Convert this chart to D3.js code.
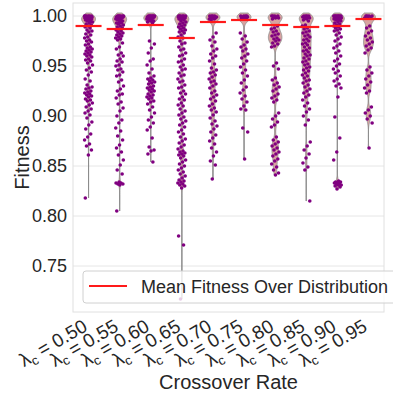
<!DOCTYPE html>
<html><head><meta charset="utf-8">
<script src="https://cdn.jsdelivr.net/npm/d3@7"></script>
<style>
html,body{margin:0;padding:0;background:#fff;}
svg{display:block;font-family:"Liberation Sans",Arial,sans-serif;}
</style></head>
<body><svg id="chart" width="393" height="402"></svg>
<script>
const categories = ["0.50","0.55","0.60","0.65","0.70","0.75","0.80","0.85","0.90","0.95"];
const meanFitness = [0.990,0.987,0.991,0.978,0.994,0.996,0.991,0.989,0.990,0.997];
const yTicks = [0.75,0.80,0.85,0.90,0.95,1.00];

const fit050 = [1,1,1,1,1,1,0.999,0.999,0.999,0.999,0.998,0.998,0.998,0.998,0.997,0.997,0.997,0.996,0.996,0.995,0.995,0.994,0.993,0.992,0.991,0.99,0.989,0.988,0.986,0.985,0.984,0.982,0.981,0.979,0.978,0.976,0.975,0.974,0.972,0.971,0.969,0.968,0.967,0.966,0.965,0.964,0.963,0.962,0.961,0.96,0.959,0.957,0.956,0.955,0.953,0.951,0.948,0.946,0.944,0.941,0.937,0.935,0.931,0.929,0.928,0.927,0.925,0.924,0.923,0.922,0.921,0.92,0.919,0.917,0.916,0.915,0.913,0.911,0.909,0.907,0.905,0.903,0.901,0.898,0.894,0.891,0.887,0.882,0.879,0.876,0.872,0.87,0.866,0.861,0.818];
const fit055 = [1,1,1,1,1,1,0.999,0.999,0.999,0.999,0.998,0.998,0.998,0.997,0.997,0.996,0.996,0.995,0.994,0.993,0.993,0.992,0.991,0.99,0.989,0.988,0.987,0.986,0.985,0.984,0.983,0.982,0.981,0.98,0.979,0.978,0.977,0.976,0.973,0.969,0.967,0.963,0.961,0.96,0.957,0.955,0.954,0.951,0.95,0.947,0.946,0.944,0.941,0.94,0.936,0.934,0.93,0.927,0.925,0.922,0.921,0.918,0.914,0.912,0.908,0.905,0.9,0.896,0.893,0.888,0.885,0.88,0.876,0.871,0.868,0.864,0.861,0.856,0.851,0.846,0.842,0.834,0.833,0.833,0.832,0.832,0.831,0.805];
const fit060 = [1,1,1,1,1,1,1,0.999,0.999,0.999,0.999,0.998,0.998,0.998,0.997,0.997,0.996,0.996,0.995,0.995,0.994,0.993,0.975,0.972,0.968,0.963,0.957,0.955,0.951,0.947,0.943,0.94,0.938,0.937,0.936,0.935,0.934,0.933,0.932,0.93,0.929,0.928,0.927,0.926,0.925,0.924,0.922,0.921,0.92,0.919,0.918,0.917,0.915,0.914,0.912,0.909,0.906,0.903,0.899,0.896,0.893,0.889,0.886,0.878,0.869,0.866,0.865,0.862,0.854];
const fit065 = [1,1,1,1,1,1,0.999,0.999,0.999,0.998,0.998,0.998,0.997,0.997,0.996,0.995,0.994,0.993,0.992,0.991,0.99,0.989,0.988,0.987,0.986,0.985,0.984,0.983,0.981,0.979,0.978,0.975,0.973,0.972,0.969,0.967,0.966,0.963,0.961,0.96,0.957,0.955,0.954,0.951,0.949,0.947,0.946,0.943,0.941,0.94,0.937,0.935,0.934,0.931,0.929,0.928,0.925,0.923,0.922,0.919,0.917,0.916,0.913,0.911,0.91,0.907,0.905,0.903,0.901,0.899,0.897,0.895,0.893,0.891,0.889,0.886,0.884,0.882,0.879,0.877,0.875,0.873,0.871,0.869,0.867,0.865,0.864,0.863,0.862,0.861,0.86,0.858,0.856,0.854,0.852,0.85,0.848,0.846,0.844,0.842,0.84,0.838,0.836,0.835,0.834,0.833,0.832,0.831,0.83,0.828,0.78,0.771,0.717];
const fit070 = [1,1,1,1,0.999,0.999,0.999,0.998,0.998,0.997,0.997,0.996,0.983,0.979,0.976,0.974,0.97,0.967,0.965,0.962,0.96,0.958,0.955,0.952,0.948,0.946,0.944,0.943,0.941,0.939,0.937,0.935,0.934,0.932,0.93,0.928,0.925,0.923,0.921,0.919,0.917,0.915,0.912,0.91,0.908,0.906,0.904,0.901,0.898,0.895,0.892,0.89,0.887,0.884,0.881,0.878,0.875,0.872,0.868,0.864,0.86,0.855,0.851,0.837];
const fit075 = [1,1,1,1,0.999,0.999,0.999,0.998,0.998,0.997,0.983,0.98,0.977,0.974,0.971,0.969,0.967,0.965,0.962,0.96,0.958,0.955,0.952,0.949,0.946,0.943,0.94,0.936,0.933,0.929,0.926,0.923,0.92,0.917,0.914,0.91,0.907,0.906,0.888,0.884,0.857];
const fit080 = [1,1,1,1,0.999,0.999,0.998,0.998,0.997,0.99,0.988,0.987,0.985,0.984,0.982,0.981,0.98,0.978,0.977,0.976,0.975,0.973,0.972,0.97,0.969,0.953,0.95,0.947,0.938,0.936,0.933,0.931,0.929,0.927,0.925,0.922,0.92,0.918,0.916,0.914,0.903,0.9,0.897,0.894,0.891,0.889,0.879,0.876,0.874,0.872,0.87,0.868,0.866,0.864,0.862,0.86,0.857,0.855,0.852,0.849,0.846,0.843,0.841];
const fit085 = [1,1,1,1,0.999,0.999,0.998,0.998,0.997,0.996,0.995,0.991,0.99,0.988,0.987,0.985,0.984,0.983,0.981,0.98,0.979,0.977,0.976,0.975,0.973,0.972,0.971,0.969,0.968,0.966,0.965,0.964,0.962,0.961,0.96,0.958,0.957,0.955,0.954,0.952,0.951,0.949,0.948,0.946,0.945,0.943,0.941,0.94,0.938,0.936,0.935,0.933,0.931,0.929,0.927,0.925,0.923,0.921,0.919,0.916,0.913,0.91,0.907,0.904,0.9,0.896,0.891,0.874,0.87,0.866,0.862,0.858,0.853,0.849,0.846,0.815];
const fit090 = [1,1,1,1,1,1,1,1,0.999,0.999,0.999,0.999,0.998,0.998,0.998,0.998,0.997,0.997,0.997,0.996,0.996,0.995,0.994,0.993,0.992,0.991,0.99,0.989,0.988,0.987,0.986,0.985,0.983,0.981,0.979,0.977,0.975,0.972,0.97,0.968,0.965,0.963,0.96,0.957,0.955,0.952,0.95,0.947,0.945,0.943,0.94,0.937,0.935,0.932,0.93,0.928,0.919,0.899,0.878,0.864,0.856,0.835,0.834,0.834,0.833,0.833,0.832,0.832,0.831,0.831,0.83,0.829,0.827];
const fit095 = [1,1,1,1,0.999,0.999,0.998,0.99,0.988,0.985,0.983,0.98,0.978,0.976,0.974,0.972,0.97,0.968,0.966,0.963,0.949,0.946,0.943,0.94,0.937,0.934,0.931,0.928,0.925,0.923,0.909,0.906,0.903,0.9,0.897,0.893,0.868];
const fitness = [fit050,fit055,fit060,fit065,fit070,fit075,fit080,fit085,fit090,fit095];

const svg = d3.select("#chart");
const L = 73, R = 384, T = 3, B = 312;
const x = d3.scaleBand().domain(categories).range([L, R]);
const y = d3.scaleLinear().domain([0.704, 1.013]).range([B, T]);
const textCol = "#262626";
const font = "Liberation Sans, Arial, sans-serif";

// grid
svg.append("g").selectAll("line").data(yTicks).join("line")
  .attr("x1", L).attr("x2", R).attr("y1", d => y(d)).attr("y2", d => y(d))
  .attr("stroke", "#e6e6e6").attr("stroke-width", 1);
// frame
svg.append("rect").attr("x", L).attr("y", T).attr("width", R - L).attr("height", B - T)
  .attr("fill", "none").attr("stroke", "#e0e0e0").attr("stroke-width", 1);

// violins
const bw = 0.005;
const kernel = u => Math.exp(-0.5 * u * u);
fitness.forEach((vals, i) => {
  const cx = x(categories[i]) + x.bandwidth() / 2;
  const lo = d3.min(vals), hi = d3.max(vals) + 0.003;
  const grid = d3.range(lo, hi + 1e-9, 0.0005);
  const dens = grid.map(g => [g, d3.sum(vals, v => kernel((g - v) / bw))]);
  const mx = d3.max(dens, d => d[1]);
  const w = d3.scalePow().exponent(1.8).domain([0, mx]).range([0, 7]);
  const area = d3.area().curve(d3.curveBasis)
    .y(d => y(d[0])).x0(d => cx - w(d[1])).x1(d => cx + w(d[1]));
  svg.append("line").attr("x1", cx).attr("x2", cx).attr("y1", y(lo)).attr("y2", y(d3.max(vals)))
    .attr("stroke", "#9a9a9a").attr("stroke-width", 1);
  svg.append("path").datum(dens).attr("d", area)
    .attr("fill", "#d9a3a0").attr("stroke", "#8c8c8c").attr("stroke-width", 0.8);
});

// points
fitness.forEach((vals, i) => {
  const cx = x(categories[i]) + x.bandwidth() / 2;
  svg.append("g").selectAll("circle").data(vals).join("circle")
    .attr("cx", (d, j) => cx + (((j * 0.6180339 + i * 0.37) % 1) - 0.5) * 8)
    .attr("cy", d => y(d))
    .attr("r", 1.8).attr("fill", "#800080");
});

// mean lines
svg.append("g").selectAll("line").data(meanFitness).join("line")
  .attr("x1", (d, i) => x(categories[i]) + x.bandwidth() / 2 - 13)
  .attr("x2", (d, i) => x(categories[i]) + x.bandwidth() / 2 + 13)
  .attr("y1", d => y(d)).attr("y2", d => y(d))
  .attr("stroke", "#ff1a1a").attr("stroke-width", 2.2);

// y axis
const yAxis = svg.append("g").attr("transform", `translate(${L},0)`)
  .call(d3.axisLeft(y).tickValues(yTicks).tickFormat(d3.format(".2f")).tickSize(0).tickPadding(6));
yAxis.select(".domain").remove();
yAxis.selectAll("text").attr("font-size", 18).attr("fill", textCol).attr("font-family", font);

// x axis
const xAxis = svg.append("g").attr("transform", `translate(0,${B})`)
  .call(d3.axisBottom(x).tickSize(0));
xAxis.select(".domain").remove();
xAxis.selectAll("text").each(function(d) {
  const t = d3.select(this);
  t.text(null).attr("font-size", 19).attr("fill", textCol).attr("font-family", font)
   .attr("text-anchor", "end").attr("dy", null).attr("y", null)
   .attr("transform", "translate(0,18) rotate(-30)");
  t.append("tspan").text("λ");
  t.append("tspan").text("c").attr("font-size", 13).attr("dy", 4);
  t.append("tspan").text(" = " + d).attr("dy", -4);
});

// axis titles
svg.append("text").attr("transform", `translate(29,${(T + B) / 2}) rotate(-90)`)
  .attr("text-anchor", "middle").attr("font-size", 20).attr("fill", textCol).text("Fitness");
svg.append("text").attr("x", (L + R) / 2).attr("y", 389)
  .attr("text-anchor", "middle").attr("font-size", 20).attr("fill", textCol).text("Crossover Rate");

// legend
const lg = svg.append("g");
lg.append("rect").attr("x", 83).attr("y", 271).attr("width", 318).attr("height", 32).attr("rx", 3)
  .attr("fill", "#fff").attr("fill-opacity", 0.8).attr("stroke", "#d0d0d0").attr("stroke-width", 1);
lg.append("line").attr("x1", 89).attr("x2", 127).attr("y1", 286).attr("y2", 286)
  .attr("stroke", "#ff1a1a").attr("stroke-width", 2.2);
lg.append("text").attr("x", 141).attr("y", 293).attr("font-size", 18).attr("fill", textCol)
  .text("Mean Fitness Over Distribution");
</script></body></html>
